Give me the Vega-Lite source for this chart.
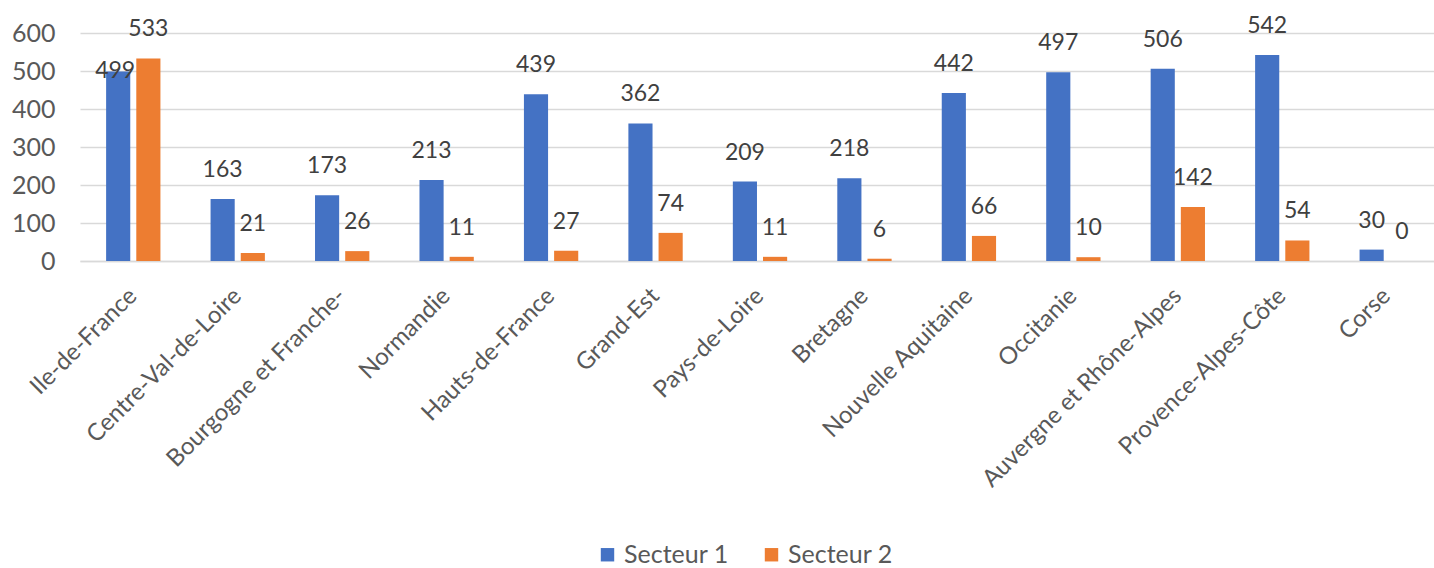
{
  "$schema": "https://vega.github.io/schema/vega-lite/v6.json",
  "autosize": {"type": "none"},
  "width": 1360,
  "height": 228,
  "padding": {"left": 80, "top": 33, "right": 0, "bottom": 307},
  "background": "white",
  "config": {
    "font": "Lato",
    "view": {"stroke": null}
  },
  "data": {
    "values": [
      {"region": "Ile-de-France", "secteur": "Secteur 1", "value": 499},
      {"region": "Centre-Val-de-Loire", "secteur": "Secteur 1", "value": 163},
      {"region": "Bourgogne et Franche-", "secteur": "Secteur 1", "value": 173},
      {"region": "Normandie", "secteur": "Secteur 1", "value": 213},
      {"region": "Hauts-de-France", "secteur": "Secteur 1", "value": 439},
      {"region": "Grand-Est", "secteur": "Secteur 1", "value": 362},
      {"region": "Pays-de-Loire", "secteur": "Secteur 1", "value": 209},
      {"region": "Bretagne", "secteur": "Secteur 1", "value": 218},
      {"region": "Nouvelle Aquitaine", "secteur": "Secteur 1", "value": 442},
      {"region": "Occitanie", "secteur": "Secteur 1", "value": 497},
      {"region": "Auvergne et Rhône-Alpes", "secteur": "Secteur 1", "value": 506},
      {"region": "Provence-Alpes-Côte", "secteur": "Secteur 1", "value": 542},
      {"region": "Corse", "secteur": "Secteur 1", "value": 30},
      {"region": "Ile-de-France", "secteur": "Secteur 2", "value": 533},
      {"region": "Centre-Val-de-Loire", "secteur": "Secteur 2", "value": 21},
      {"region": "Bourgogne et Franche-", "secteur": "Secteur 2", "value": 26},
      {"region": "Normandie", "secteur": "Secteur 2", "value": 11},
      {"region": "Hauts-de-France", "secteur": "Secteur 2", "value": 27},
      {"region": "Grand-Est", "secteur": "Secteur 2", "value": 74},
      {"region": "Pays-de-Loire", "secteur": "Secteur 2", "value": 11},
      {"region": "Bretagne", "secteur": "Secteur 2", "value": 6},
      {"region": "Nouvelle Aquitaine", "secteur": "Secteur 2", "value": 66},
      {"region": "Occitanie", "secteur": "Secteur 2", "value": 10},
      {"region": "Auvergne et Rhône-Alpes", "secteur": "Secteur 2", "value": 142},
      {"region": "Provence-Alpes-Côte", "secteur": "Secteur 2", "value": 54},
      {"region": "Corse", "secteur": "Secteur 2", "value": 0}
    ]
  },
  "encoding": {
    "x": {
      "field": "region",
      "type": "nominal",
      "sort": null,
      "title": null,
      "scale": {"paddingInner": 0.48, "paddingOuter": 0.25},
      "axis": {
        "labelAngle": -45,
        "labelAlign": "right",
        "labelBaseline": "middle",
        "labelPadding": 31,
        "labelFontSize": 24,
        "labelColor": "#595959",
        "ticks": false,
        "domain": true,
        "domainColor": "#D9D9D9",
        "domainWidth": 1.5,
        "grid": false,
        "labelOverlap": false,
        "labelLimit": 400
      }
    },
    "xOffset": {
      "field": "secteur",
      "type": "nominal",
      "scale": {"paddingInner": 0.2}
    },
    "y": {
      "field": "value",
      "type": "quantitative",
      "title": null,
      "scale": {"domain": [0, 600]},
      "axis": {
        "values": [0, 100, 200, 300, 400, 500, 600],
        "labelFontSize": 25,
        "labelColor": "#595959",
        "labelPadding": 25,
        "ticks": false,
        "domain": false,
        "gridColor": "#D9D9D9",
        "gridWidth": 1.5
      }
    }
  },
  "layer": [
    {
      "mark": {"type": "bar"},
      "encoding": {
        "color": {
          "field": "secteur",
          "type": "nominal",
          "title": null,
          "scale": {"domain": ["Secteur 1", "Secteur 2"], "range": ["#4472C4", "#ED7D31"]},
          "legend": {
            "orient": "none",
            "legendX": 515,
            "legendY": 509,
            "direction": "horizontal",
            "symbolType": "square",
            "symbolSize": 180,
            "symbolStrokeWidth": 0,
            "labelFontSize": 25,
            "labelColor": "#595959",
            "labelOffset": 4,
            "columnPadding": 30
          }
        }
      }
    },
    {
      "transform": [{"filter": "!(datum.region === 'Ile-de-France' && datum.secteur === 'Secteur 1')"}],
      "mark": {"type": "text", "baseline": "middle", "dy": -29, "fontSize": 23, "color": "#404040"},
      "encoding": {
        "text": {"field": "value", "type": "quantitative"}
      }
    },
    {
      "transform": [{"filter": "datum.region === 'Ile-de-France' && datum.secteur === 'Secteur 1'"}],
      "mark": {"type": "text", "baseline": "middle", "dy": 0, "dx": -3, "fontSize": 23, "color": "#404040"},
      "encoding": {
        "text": {"field": "value", "type": "quantitative"}
      }
    }
  ]
}
